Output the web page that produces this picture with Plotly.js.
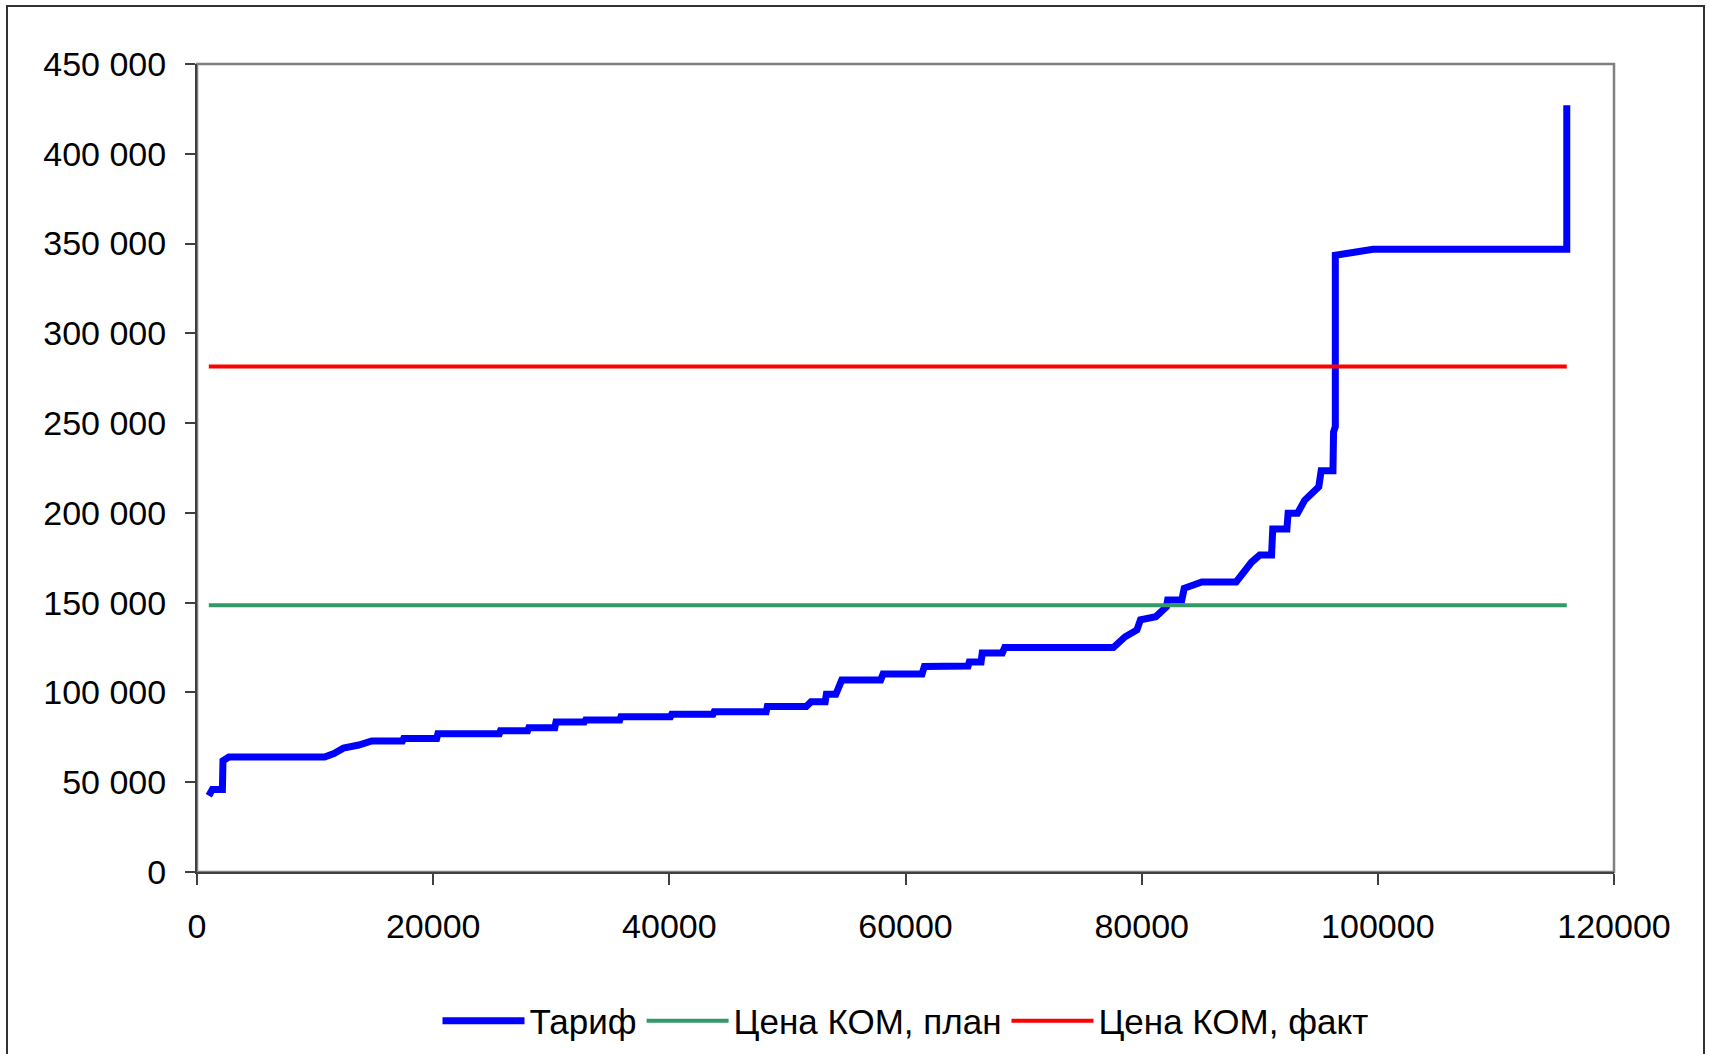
<!DOCTYPE html>
<html>
<head>
<meta charset="utf-8">
<script src="https://cdn.plot.ly/plotly-3.0.1.min.js"></script>
<style>
  html, body { margin: 0; padding: 0; background: #ffffff; }
  #chart { width: 1709px; height: 1054px; }
</style>
</head>
<body>
<div id="chart"></div>
<script>
// Tariff curve (cumulative volume vs price)
const tariffX = [1000, 1300, 2150, 2200, 2700, 10800, 11600, 12400, 13700, 14800, 17400, 17500, 20300, 20400,
  25600, 25700, 28000, 28100, 30300, 30400, 32800, 32900, 35800, 35900, 40100, 40200, 43700, 43800,
  48200, 48300, 51600, 52000, 53200, 53300, 54100, 54600, 57900, 58100, 61400, 61600, 65300, 65400,
  66400, 66500, 68200, 68400, 77600, 78600, 79600, 79900, 81200, 82100, 82200, 83400, 83600, 85100,
  88000, 89300, 90000, 91000, 91100, 92300, 92400, 93200, 93800, 94300, 95000, 95200, 96200, 96250,
  96400, 96400, 99600, 116000, 116000];
const tariffY = [42500, 46000, 46000, 62000, 64000, 64000, 66000, 69000, 70700, 73000, 73000, 74400, 74400, 77000,
  77000, 78700, 78700, 80400, 80400, 83500, 83500, 84600, 84600, 86500, 86500, 87800, 87800, 89300,
  89300, 92200, 92200, 94800, 94800, 99000, 99000, 106900, 106900, 110300, 110300, 114500, 114700, 117000,
  117000, 122000, 122000, 125000, 125000, 131000, 134800, 140500, 142200, 147700, 151500, 151500, 158000, 161500,
  161500, 172500, 176500, 176500, 191000, 191000, 199800, 199800, 207000, 210500, 214500, 223500, 223500, 245000,
  248000, 343500, 346800, 346800, 427000];

// Capacity price lines
const planX = [1000, 116000];
const planY = [148500, 148500];
const factX = [1000, 116000];
const factY = [281500, 281500];

const seriesNames = ['Тариф', 'Цена КОМ, план', 'Цена КОМ, факт'];

const xTicks = [0, 20000, 40000, 60000, 80000, 100000, 120000];
const yTicks = [0, 50000, 100000, 150000, 200000, 250000, 300000, 350000, 400000, 450000];

const FONT = 'Liberation Sans, Arial, sans-serif';

const traces = [
  { x: tariffX, y: tariffY, name: seriesNames[0], type: 'scatter', mode: 'lines',
    line: { color: '#0000ff', width: 7 } },
  { x: planX, y: planY, name: seriesNames[1], type: 'scatter', mode: 'lines',
    line: { color: '#339966', width: 4 } },
  { x: factX, y: factY, name: seriesNames[2], type: 'scatter', mode: 'lines',
    line: { color: '#ff0000', width: 4 } }
];

// paper coordinates of the outer chart frame
const L = 197, R = 1614, T = 64, B = 872;
const px = v => (v - L) / (R - L);
const py = v => (B - v) / (B - T);

const layout = {
  width: 1709, height: 1054,
  paper_bgcolor: '#ffffff', plot_bgcolor: '#ffffff',
  separators: ', ',
  margin: { l: L, r: 1709 - R, t: T, b: 1054 - B, pad: 0, autoexpand: false },
  font: { family: FONT, size: 34, color: '#000000' },
  showlegend: true,
  legend: {
    orientation: 'h', x: 0.5, xanchor: 'center', y: py(1021), yanchor: 'middle',
    font: { family: FONT, size: 35, color: '#000000' },
    itemwidth: 82, tracegroupgap: 0, bgcolor: 'rgba(0,0,0,0)'
  },
  xaxis: {
    range: [0, 120000], tickvals: xTicks, tickformat: 'd',
    showgrid: false, zeroline: false, automargin: false,
    showline: true, linecolor: '#404040', linewidth: 2,
    ticks: 'outside', ticklen: 11, tickwidth: 2, tickcolor: '#404040',
    tickfont: { family: FONT, size: 34, color: '#000000' },
    ticklabelstandoff: 12
  },
  yaxis: {
    range: [0, 450000], tickvals: yTicks, tickformat: ',d',
    showgrid: false, zeroline: false, automargin: false,
    showline: true, linecolor: '#404040', linewidth: 2,
    ticks: 'outside', ticklen: 10, tickwidth: 2, tickcolor: '#404040',
    tickfont: { family: FONT, size: 34, color: '#000000' },
    ticklabelstandoff: 12
  },
  shapes: [
    { type: 'rect', xref: 'paper', yref: 'paper', x0: 0, x1: 1, y0: 0, y1: 1,
      line: { color: '#808080', width: 2.5 }, layer: 'below' },
    { type: 'rect', xref: 'paper', yref: 'paper', x0: px(7), x1: px(1704), y0: py(1060), y1: py(6),
      line: { color: '#333333', width: 2 }, layer: 'below' }
  ]
};

Plotly.newPlot('chart', traces, layout, { displayModeBar: false, staticPlot: true });
</script>
</body>
</html>
